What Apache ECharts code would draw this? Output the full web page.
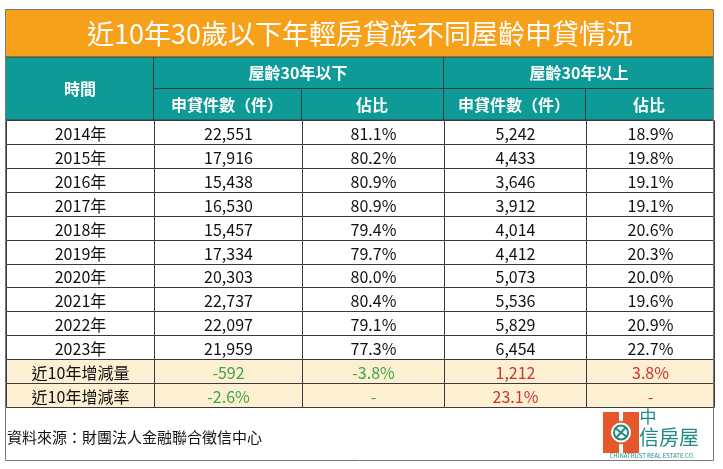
<!DOCTYPE html>
<html>
<head>
<meta charset="utf-8">
<script src="https://cdn.jsdelivr.net/npm/echarts@6/dist/echarts.min.js"></script>
<style>
  html, body { margin: 0; padding: 0; background: #fff; }
  #main { width: 723px; height: 469px; }
</style>
</head>
<body>
<div id="main"></div>
<script>
// 資料
const years = ['2014年', '2015年', '2016年', '2017年', '2018年', '2019年', '2020年', '2021年', '2022年', '2023年'];
const countBelow = [22551, 17916, 15438, 16530, 15457, 17334, 20303, 22737, 22097, 21959];
const shareBelow = [81.1, 80.2, 80.9, 80.9, 79.4, 79.7, 80.0, 80.4, 79.1, 77.3];
const countAbove = [5242, 4433, 3646, 3912, 4014, 4412, 5073, 5536, 5829, 6454];
const shareAbove = [18.9, 19.8, 19.1, 19.1, 20.6, 20.3, 20.0, 19.6, 20.9, 22.7];
const changeLabels = ['近10年增減量', '近10年增減率'];
const changeAmount = ['-592', '-3.8%', '1,212', '3.8%'];
const changeRate = ['-2.6%', '-', '23.1%', '-'];

const title = '近10年30歲以下年輕房貸族不同屋齡申貸情況';
const groupHeads = ['屋齡30年以下', '屋齡30年以上'];
const subHeads = ['申貸件數（件）', '佔比', '申貸件數（件）', '佔比'];
const source = '資料來源：財團法人金融聯合徵信中心';

// 版面
const FONT = '"Noto Sans CJK TC", "Noto Sans", sans-serif';
const colEdges = [0, 148, 296, 438, 579.5, 708];
const L = 5.5, R = 713.5, TOP = 9.5, BOT = 460.5;
const ORANGE = '#F7A11A', TEAL = '#0E9A97', CREAM = '#FDEFD2';
const GREEN = '#3DA548', RED = '#CC3333', LINE = '#3a3a3a', LOGO = '#1E8B85';

const rowNames = years.concat(changeLabels);
const fmtN = v => v.toLocaleString('en-US');
const fmtP = v => v.toFixed(1) + '%';

// 建立每一格
const cells = [];
years.forEach((y, r) => {
  const vals = [y, fmtN(countBelow[r]), fmtP(shareBelow[r]), fmtN(countAbove[r]), fmtP(shareAbove[r])];
  vals.forEach((t, c) => cells.push({ c, r, text: t, fill: '#fff', color: '#111' }));
});
[changeAmount, changeRate].forEach((arr, i) => {
  const r = years.length + i;
  cells.push({ c: 0, r, text: changeLabels[i], fill: CREAM, color: '#111' });
  arr.forEach((t, k) => cells.push({ c: k + 1, r, text: t, fill: CREAM, color: k < 2 ? GREEN : RED }));
});

const chart = echarts.init(document.getElementById('main'), null, { renderer: 'canvas' });

const headText = (text, x, y) => ({
  type: 'text',
  style: { text, x, y, align: 'center', verticalAlign: 'middle', fill: '#fff', font: 'bold 16px ' + FONT }
});
const hLine = (x1, y1, x2, y2) => ({ type: 'line', shape: { x1, y1, x2, y2 }, style: { stroke: LINE, lineWidth: 1 } });

const option = {
  animation: false,
  backgroundColor: '#fff',
  grid: { left: 6, top: 120, width: 708, height: 287 },
  xAxis: { type: 'value', min: 0, max: 708, show: false },
  yAxis: { type: 'category', data: rowNames, inverse: true, show: false },
  series: [{
    type: 'custom',
    data: cells.map(d => [d.c, d.r]),
    renderItem: (params, api) => {
      const d = cells[params.dataIndex];
      const p0 = api.coord([colEdges[d.c], d.r]);
      const p1 = api.coord([colEdges[d.c + 1], d.r]);
      const h = api.size([0, 1])[1];
      const x = Math.round(p0[0]) + 0.5, w = Math.round(p1[0]) - Math.round(p0[0]);
      const y = Math.round(p0[1] - h / 2) + 0.5, hh = Math.round(p0[1] + h / 2) - Math.round(p0[1] - h / 2);
      return {
        type: 'group',
        children: [
          { type: 'rect', shape: { x, y, width: w, height: hh }, style: { fill: d.fill, stroke: LINE, lineWidth: 1 } },
          { type: 'text', style: { text: d.text, x: x + w / 2, y: y + hh / 2 + 1, align: 'center', verticalAlign: 'middle', fill: d.color, font: '16px ' + FONT } }
        ]
      };
    }
  }],
  graphic: [
    // 外框
    { type: 'rect', shape: { x: L, y: TOP, width: R - L, height: BOT - TOP }, style: { fill: 'none', stroke: '#7a7a7a', lineWidth: 1 }, z: 10 },
    // 標題
    { type: 'rect', shape: { x: L, y: TOP, width: R - L, height: 47.5 }, style: { fill: ORANGE } },
    { type: 'text', style: { text: title, x: 360, y: 34, align: 'center', verticalAlign: 'middle', fill: '#fff', font: '27px ' + FONT } },
    // 表頭
    { type: 'rect', shape: { x: L, y: 57, width: R - L, height: 63 }, style: { fill: TEAL, stroke: LINE, lineWidth: 1 } },
    hLine(153.5, 57, 153.5, 120),
    hLine(443.5, 57, 443.5, 120),
    hLine(301.5, 88.5, 301.5, 120),
    hLine(585.5, 88.5, 585.5, 120),
    hLine(153.5, 88.5, R, 88.5),
    headText('時間', 80, 89),
    headText(groupHeads[0], 298, 73),
    headText(groupHeads[1], 579, 73),
    headText(subHeads[0], 227, 104.5),
    headText(subHeads[1], 372, 104.5),
    headText(subHeads[2], 514, 104.5),
    headText(subHeads[3], 649, 104.5),
    // 資料來源
    { type: 'text', style: { text: source, x: 7, y: 437, align: 'left', verticalAlign: 'middle', fill: '#111', font: '15px ' + FONT } },
    // 標誌
    { type: 'rect', shape: { x: 603, y: 412, width: 36, height: 41 }, style: { fill: '#E5582C' } },
    { type: 'rect', shape: { x: 619, y: 412, width: 4, height: 9 }, style: { fill: '#fff' } },
    { type: 'rect', shape: { x: 619, y: 444, width: 4, height: 9 }, style: { fill: '#fff' } },
    { type: 'circle', shape: { cx: 621, cy: 432.5, r: 10 }, style: { fill: '#fff' } },
    { type: 'circle', shape: { cx: 621, cy: 432.5, r: 7 }, style: { fill: 'none', stroke: LOGO, lineWidth: 2 } },
    { type: 'line', shape: { x1: 615, y1: 428, x2: 627, y2: 437 }, style: { stroke: LOGO, lineWidth: 2 } },
    { type: 'line', shape: { x1: 616, y1: 438, x2: 626, y2: 427 }, style: { stroke: LOGO, lineWidth: 2 } },
    { type: 'text', style: { text: '中', x: 648, y: 417, align: 'center', verticalAlign: 'middle', fill: LOGO, font: '17px ' + FONT } },
    { type: 'text', style: { text: '信房屋', x: 669, y: 437, align: 'center', verticalAlign: 'middle', fill: LOGO, font: '20px ' + FONT } },
    { type: 'text', style: { text: 'CHINATRUST REAL ESTATE CO.', x: 652, y: 456, align: 'center', verticalAlign: 'middle', fill: LOGO, font: '6px ' + FONT } }
  ]
};

chart.setOption(option);
</script>
</body>
</html>
